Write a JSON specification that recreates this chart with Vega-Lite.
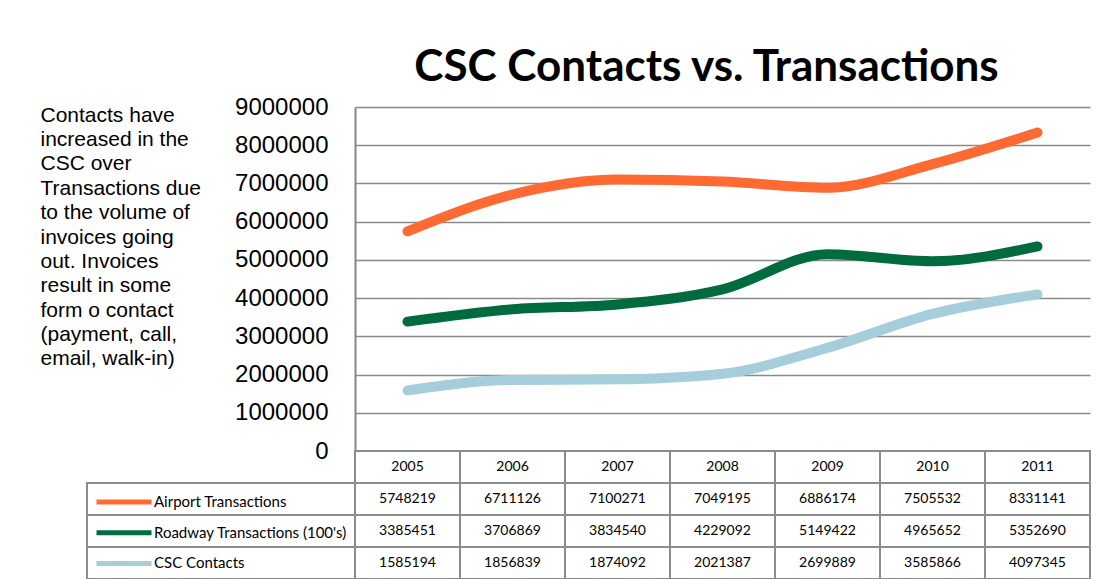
{
  "$schema": "https://vega.github.io/schema/vega-lite/v6.json",
  "padding": {"left": 40, "top": 46, "right": 0, "bottom": 0},
  "background": "white",
  "datasets": {
    "d": [
      {"year": "2005", "series": "Airport Transactions", "value": 5748219},
      {"year": "2006", "series": "Airport Transactions", "value": 6711126},
      {"year": "2007", "series": "Airport Transactions", "value": 7100271},
      {"year": "2008", "series": "Airport Transactions", "value": 7049195},
      {"year": "2009", "series": "Airport Transactions", "value": 6886174},
      {"year": "2010", "series": "Airport Transactions", "value": 7505532},
      {"year": "2011", "series": "Airport Transactions", "value": 8331141},
      {"year": "2005", "series": "Roadway Transactions (100's)", "value": 3385451},
      {"year": "2006", "series": "Roadway Transactions (100's)", "value": 3706869},
      {"year": "2007", "series": "Roadway Transactions (100's)", "value": 3834540},
      {"year": "2008", "series": "Roadway Transactions (100's)", "value": 4229092},
      {"year": "2009", "series": "Roadway Transactions (100's)", "value": 5149422},
      {"year": "2010", "series": "Roadway Transactions (100's)", "value": 4965652},
      {"year": "2011", "series": "Roadway Transactions (100's)", "value": 5352690},
      {"year": "2005", "series": "CSC Contacts", "value": 1585194},
      {"year": "2006", "series": "CSC Contacts", "value": 1856839},
      {"year": "2007", "series": "CSC Contacts", "value": 1874092},
      {"year": "2008", "series": "CSC Contacts", "value": 2021387},
      {"year": "2009", "series": "CSC Contacts", "value": 2699889},
      {"year": "2010", "series": "CSC Contacts", "value": 3585866},
      {"year": "2011", "series": "CSC Contacts", "value": 4097345}
    ]
  },
  "columns": 2,
  "spacing": 0,
  "bounds": "flush",
  "resolve": {"scale": {"x": "independent", "y": "independent", "color": "independent"}},
  "concat": [
    {
      "width": 268,
      "height": 344,
      "data": {"values": [{}]},
      "mark": {"type": "point", "opacity": 0}
    },
    {
      "width": 735,
      "height": 344,
      "title": {
        "text": "CSC Contacts vs. Transactions",
        "font": "Lato",
        "fontSize": 44,
        "fontWeight": "bold",
        "color": "#000000",
        "anchor": "middle",
        "dx": -16,
        "offset": 5
      },
      "data": {"name": "d"},
      "mark": {"type": "line", "strokeWidth": 10, "strokeCap": "round", "strokeJoin": "round", "interpolate": "monotone"},
      "encoding": {
        "x": {"field": "year", "type": "ordinal", "scale": {"padding": 0.5}, "axis": null},
        "y": {
          "field": "value",
          "type": "quantitative",
          "scale": {"domain": [0, 9000000], "nice": false},
          "axis": {
            "values": [0, 1000000, 2000000, 3000000, 4000000, 5000000, 6000000, 7000000, 8000000, 9000000],
            "format": "d",
            "labelFont": "Liberation Sans",
            "labelFontSize": 24,
            "labelColor": "#000000",
            "labelPadding": 27,
            "ticks": false,
            "domainColor": "#868686",
            "domainWidth": 2,
            "grid": true,
            "gridColor": "#8a8a8a",
            "gridWidth": 1.5,
            "gridOpacity": 1,
            "title": ["Contacts have", "increased in the", "CSC over", "Transactions due", "to the volume of", "invoices going", "out.  Invoices", "result in some", "form o contact", "(payment, call,", "email, walk-in)"],
            "titleAngle": 0,
            "titleAlign": "left",
            "titleBaseline": "top",
            "titleX": -315,
            "titleY": -3,
            "titleFont": "Liberation Sans",
            "titleFontSize": 21,
            "titleFontWeight": "normal",
            "titleLineHeight": 24.4,
            "titleColor": "#000000"
          }
        },
        "color": {
          "field": "series",
          "type": "nominal",
          "scale": {
            "domain": ["Airport Transactions", "Roadway Transactions (100's)", "CSC Contacts"],
            "range": ["#FF6A33", "#006B3F", "#A6CDDA"]
          },
          "legend": {
            "title": null,
            "orient": "none",
            "legendX": -261,
            "legendY": 381,
            "direction": "vertical",
            "symbolType": "stroke",
            "symbolSize": 3025,
            "symbolStrokeWidth": 5,
            "clipHeight": 28,
            "rowPadding": 2.7,
            "labelFont": "Lato",
            "labelFontSize": 15,
            "labelColor": "#000000",
            "labelOffset": 0,
            "labelLimit": 300,
            "padding": 0
          }
        }
      }
    },
    {
      "width": 268,
      "height": 128,
      "data": {"name": "d"},
      "transform": [{"filter": "datum.year === '2005'"}],
      "mark": {"type": "rect", "fill": "transparent", "stroke": "#8c8c8c", "strokeWidth": 2},
      "encoding": {
        "y": {
          "field": "series",
          "type": "nominal",
          "scale": {"domain": ["header", "Airport Transactions", "Roadway Transactions (100's)", "CSC Contacts"], "paddingInner": 0, "paddingOuter": 0},
          "axis": null
        }
      }
    },
    {
      "width": 735,
      "height": 128,
      "data": {"name": "d"},
      "encoding": {
        "x": {"field": "year", "type": "ordinal", "scale": {"type": "band", "paddingInner": 0, "paddingOuter": 0}, "axis": null}
      },
      "layer": [
        {
          "mark": {"type": "rect", "fill": "white", "stroke": "#8c8c8c", "strokeWidth": 2},
          "encoding": {
            "y": {
              "field": "series",
              "type": "nominal",
              "scale": {"domain": ["header", "Airport Transactions", "Roadway Transactions (100's)", "CSC Contacts"], "paddingInner": 0, "paddingOuter": 0},
              "axis": null
            }
          }
        },
        {
          "transform": [{"filter": "datum.series === 'Airport Transactions'"}],
          "mark": {"type": "rect", "fill": "white", "stroke": "#8c8c8c", "strokeWidth": 2},
          "encoding": {"y": {"datum": "header", "type": "nominal"}}
        },
        {
          "mark": {"type": "text", "font": "Lato", "fontSize": 14, "color": "#000000"},
          "encoding": {
            "y": {"field": "series", "type": "nominal"},
            "text": {"field": "value", "type": "quantitative", "format": "d"}
          }
        },
        {
          "transform": [{"filter": "datum.series === 'Airport Transactions'"}],
          "mark": {"type": "text", "font": "Lato", "fontSize": 14, "color": "#000000"},
          "encoding": {
            "y": {"datum": "header", "type": "nominal"},
            "text": {"field": "year", "type": "nominal"}
          }
        }
      ]
    }
  ],
  "config": {
    "view": {"stroke": null}
  }
}
